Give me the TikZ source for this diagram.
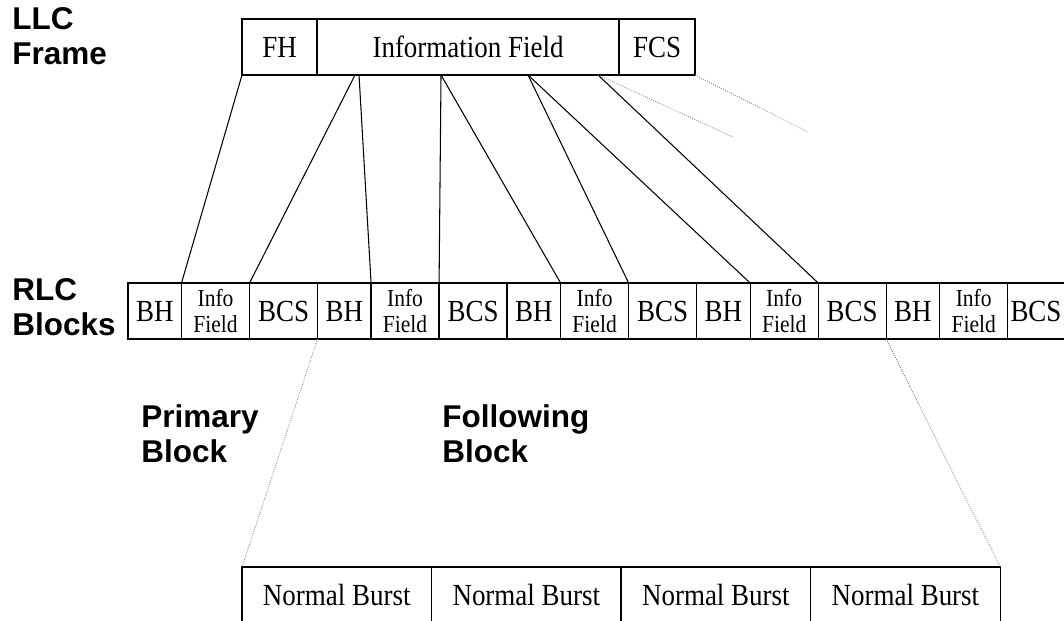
\documentclass[tikz,border=0pt]{standalone}
\usepackage{fontspec}
\setmainfont{Liberation Serif}[FakeStretch=0.88]
\setsansfont{Liberation Sans}
\usepackage{tikz}
\usetikzlibrary{positioning, calc}

\begin{document}
\begin{tikzpicture}[
  x=0.025cm, y=-0.025cm,
  cell/.style={draw, line width=0.9pt, inner sep=0pt, outer sep=0pt, minimum height=1.4cm, font=\fontsize{21.8}{23}\selectfont},
  headCell/.style={cell, minimum width=1.3375cm},
  infoCell/.style={cell, minimum width=1.7cm, align=center, font=\fontsize{17.4}{17.8}\selectfont},
  checkCell/.style={cell, minimum width=1.7cm},
  burstCell/.style={cell, minimum width=4.7375cm},
  tag/.style={anchor=base west, align=left, inner sep=0pt, font=\sffamily\bfseries\fontsize{22.4}{24.6}\selectfont},
  link/.style={line width=0.75pt},
  faint/.style={densely dotted, gray, line width=0.6pt}
]
\useasboundingbox (0,0) rectangle (1064,620);

% LLC frame
\node[tag] (llcLabel) at (12,64) {LLC\\Frame};
\node[cell, anchor=north west, minimum width=1.875cm] (llcHeader) at (242,19) {FH};
\node[cell, right=0pt of llcHeader, minimum width=7.55cm] (llcInfo) {Information Field};
\node[cell, right=0pt of llcInfo, minimum width=1.9cm] (llcFcs) {FCS};

% RLC blocks
\node[tag] (rlcLabel) at (12,335) {RLC\\Blocks};
\node[headCell, anchor=north west] (bh1) at (128,283) {BH};
\node[infoCell, right=0pt of bh1] (infoField1) {Info\\Field};
\node[checkCell, right=0pt of infoField1] (bcs1) {BCS};
\node[headCell, right=0pt of bcs1] (bh2) {BH};
\node[infoCell, right=0pt of bh2] (infoField2) {Info\\Field};
\node[checkCell, right=0pt of infoField2] (bcs2) {BCS};
\node[headCell, right=0pt of bcs2] (bh3) {BH};
\node[infoCell, right=0pt of bh3] (infoField3) {Info\\Field};
\node[checkCell, right=0pt of infoField3] (bcs3) {BCS};
\node[headCell, right=0pt of bcs3] (bh4) {BH};
\node[infoCell, right=0pt of bh4] (infoField4) {Info\\Field};
\node[checkCell, right=0pt of infoField4] (bcs4) {BCS};
\node[headCell, right=0pt of bcs4] (bh5) {BH};
\node[infoCell, right=0pt of bh5] (infoField5) {Info\\Field};
\node[checkCell, right=0pt of infoField5, minimum width=1.4125cm] (bcs5) {BCS};

\node[tag] (primaryLabel) at (141,462) {Primary\\Block};
\node[tag] (followingLabel) at (442,462) {Following\\Block};

% bursts
\node[burstCell, anchor=north west] (burst1) at (242,567) {Normal Burst};
\node[burstCell, right=0pt of burst1] (burst2) {Normal Burst};
\node[burstCell, right=0pt of burst2] (burst3) {Normal Burst};
\node[burstCell, right=0pt of burst3] (burst4) {Normal Burst};

\coordinate (split1) at ($(llcInfo.south west)+(38,0)$);
\coordinate (split2) at ($(llcInfo.south west)+(42,0)$);
\coordinate (split3) at ($(llcInfo.south west)+(124,0)$);
\coordinate (split4) at ($(llcInfo.south west)+(211,0)$);
\coordinate (split5) at ($(llcInfo.south west)+(281,0)$);
\coordinate (fadeA) at (733,137);
\coordinate (fadeB) at (808,132);

\draw[link] (llcHeader.south west) -- (infoField1.north west);
\draw[link] (split1) -- (infoField1.north east);
\draw[link] (split2) -- (infoField2.north west);
\draw[link] (split3) -- (infoField2.north east);
\draw[link] (split3) -- (infoField3.north west);
\draw[link] (split4) -- (infoField3.north east);
\draw[link] (split4) -- (infoField4.north west);
\draw[link] (split5) -- (infoField4.north east);
\draw[faint] (split5) -- (fadeA);
\draw[faint] (llcFcs.south east) -- (fadeB);
\draw[faint] (bh2.south west) -- (burst1.north west);
\draw[faint] (bh5.south west) -- (burst4.north east);
\end{tikzpicture}
\end{document}
